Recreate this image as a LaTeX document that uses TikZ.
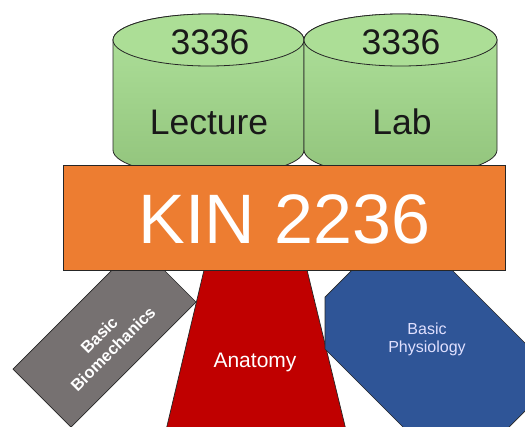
\documentclass[tikz,border=0pt]{standalone}
\usepackage{fontspec}
\setmainfont{Liberation Sans}
\definecolor{orng}{HTML}{ED7D31}
\definecolor{gry}{HTML}{767171}
\definecolor{redd}{HTML}{C00000}
\definecolor{blu}{HTML}{2F5597}
\definecolor{gtop}{RGB}{176,226,156}
\definecolor{gbot}{RGB}{146,196,124}
\definecolor{gcap}{RGB}{172,222,150}
\newcommand\mycyl[2]{%
  \shade[top color=gtop, bottom color=gbot, draw=black!85, line width=0.8pt]
    (#1-#2,40) -- (#1-#2,150) arc[start angle=180, end angle=0, x radius=#2, y radius=26]
    -- (#1+#2,40) arc[start angle=0, end angle=-180, x radius=#2, y radius=26] -- cycle;
  \draw[fill=gcap, draw=black!85, line width=0.8pt] (#1,40) ellipse[x radius=#2, y radius=26];
}
\begin{document}
\begin{tikzpicture}[x=1pt,y=-1pt,
  outl/.style={draw=black!85, line width=0.7pt},
  cyltext/.style={anchor=base, inner sep=0pt, text=black!90, font=\fontsize{35.5}{40}\selectfont}]
\useasboundingbox (0,0) rectangle (525,426);
\clip (0,0) rectangle (525,426);
% cylinders
\mycyl{208.5}{95.5}
\mycyl{400.5}{96.5}
\node[cyltext] (n1) at (210,54) {3336};
\node[cyltext] (l1) at (209,134) {Lecture};
\node[cyltext] (n2) at (401,54) {3336};
\node[cyltext] (l2) at (402,134) {Lab};
% bottom shapes
\draw[outl, fill=gry] (138,244) -- (196,302) -- (71,427) -- (13,369) -- cycle;
\node[rotate=45, align=center, text=white, font=\bfseries\fontsize{16.5}{19.5}\selectfont] (bio) at (106,342) {Basic\\Biomechanics};
\draw[outl, fill=redd] (206.4,260) -- (304.6,260) -- (348.4,440) -- (163.7,440) -- cycle;
\node[anchor=base, inner sep=0pt, text=white, font=\fontsize{21}{24}\selectfont] (ana) at (255,367) {Anatomy};
\draw[outl, fill=blu] (382,240) -- (422,240) -- (540,358) -- (540,396) -- (476,460) -- (436,460) -- (325,349) -- (325,297) -- cycle;
\node[align=center, text=white!88!blue, font=\fontsize{16}{18}\selectfont] (phy) at (427,339) {Basic\\Physiology};
% main bar
\draw[draw=black!85, line width=0.8pt, fill=orng] (63,165) rectangle (505,270);
\node[anchor=base, inner sep=0pt, text=white, font=\fontsize{70}{80}\selectfont] (kin) at (284.5,243) {KIN 2236};
\end{tikzpicture}
\end{document}
